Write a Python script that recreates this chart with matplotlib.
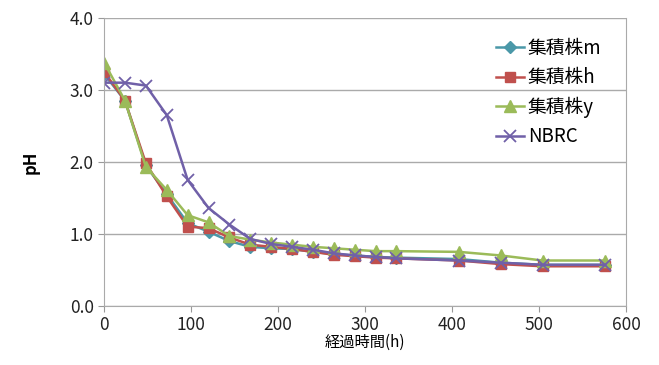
import matplotlib
matplotlib.use("Agg")
import matplotlib.pyplot as plt

plt.rcParams['font.family'] = ['Noto Sans CJK JP', 'DejaVu Sans']

# elapsed time (h) and pH values
hours = [0, 24, 48, 72, 96, 120, 144, 168, 192, 216, 240, 264, 288, 312, 336, 408, 456, 504, 576]
ph_m = [3.22, 2.85, 1.95, 1.55, 1.15, 1.03, 0.90, 0.82, 0.80, 0.79, 0.75, 0.72, 0.70, 0.68, 0.67, 0.65, 0.60, 0.57, 0.57]
ph_h = [3.25, 2.85, 1.98, 1.52, 1.10, 1.08, 0.95, 0.85, 0.82, 0.79, 0.75, 0.71, 0.69, 0.67, 0.66, 0.63, 0.58, 0.55, 0.55]
ph_y = [3.38, 2.85, 1.93, 1.61, 1.26, 1.16, 0.97, 0.92, 0.88, 0.85, 0.82, 0.80, 0.78, 0.76, 0.76, 0.75, 0.70, 0.63, 0.63]
ph_nbrc = [3.10, 3.10, 3.06, 2.65, 1.75, 1.36, 1.13, 0.93, 0.86, 0.82, 0.78, 0.73, 0.70, 0.68, 0.66, 0.63, 0.60, 0.57, 0.57]
labels = ['集積株m', '集積株h', '集積株y', 'NBRC']

fig = plt.figure(figsize=(6.59, 3.65), dpi=100)
ax = fig.add_axes([0.158, 0.162, 0.792, 0.789])

ax.plot(hours, ph_m, color='#4a98a8', marker='D', markersize=6, lw=1.8, label=labels[0])
ax.plot(hours, ph_h, color='#c0504d', marker='s', markersize=7, lw=1.8, label=labels[1])
ax.plot(hours, ph_y, color='#9bbb59', marker='^', markersize=9, lw=1.8, label=labels[2])
ax.plot(hours, ph_nbrc, color='#7060a8', marker='x', markersize=8, mew=1.3, lw=1.8, label=labels[3])

ax.set_xlim(0, 600)
ax.set_ylim(0, 4.0)
ax.set_xticks(range(0, 601, 100))
ax.set_yticks([0, 1, 2, 3, 4])
ax.set_yticklabels(['0.0', '1.0', '2.0', '3.0', '4.0'])
ax.tick_params(labelsize=12.5, colors='#222222', length=4, color='#999999')
ax.tick_params(axis='x', pad=3)
ax.yaxis.grid(True, color='#aaaaaa', lw=1)
ax.set_axisbelow(True)
for sp in ax.spines.values():
    sp.set_color('#aaaaaa')
ax.spines['top'].set_visible(False)

ax.set_ylabel('pH', fontsize=12, fontweight='bold', labelpad=22)
ax.set_xlabel('経過時間(h)', fontsize=11, labelpad=0)

leg = ax.legend(loc='upper right', bbox_to_anchor=(0.985, 0.99), frameon=False,
                fontsize=13.5, handlelength=1.5, handletextpad=0.2, labelspacing=0.45)

fig.savefig('out.png', dpi=100)
